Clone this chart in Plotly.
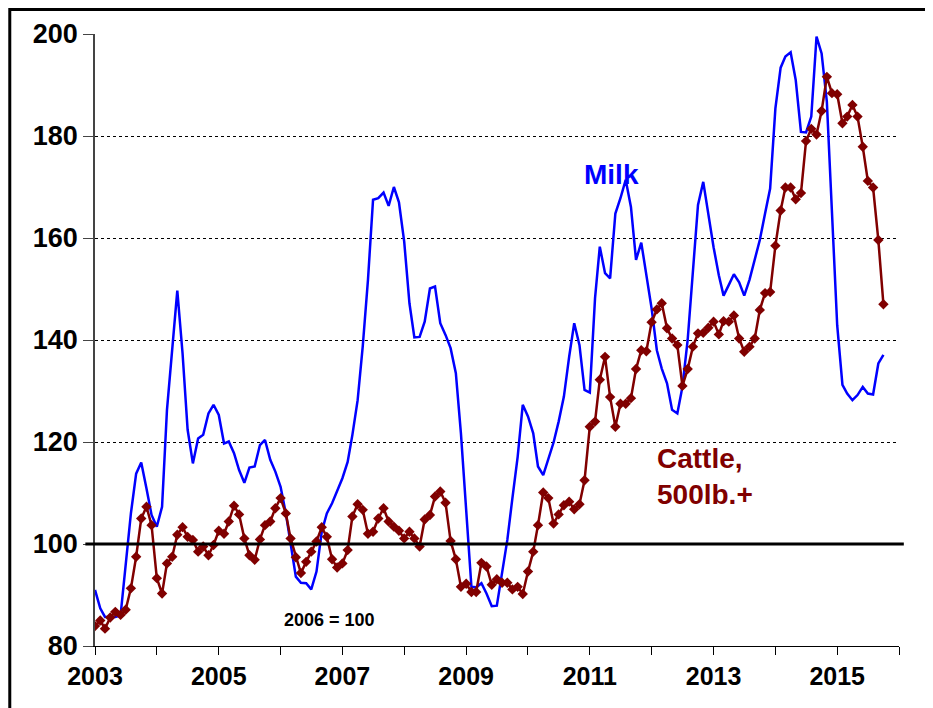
import pandas as pd
import plotly.graph_objects as go

# Monthly index values (2006 = 100), Jan 2003 - Oct 2015
milk = [91.0, 87.4, 85.7, 85.7, 85.7, 86.0, 96.2, 106.0, 113.8, 116.0, 110.9, 105.7,
        103.4, 107.3, 126.3, 138.7, 149.7, 137.4, 122.4, 115.8, 120.7, 121.4, 125.6, 127.3,
        125.3, 119.7, 120.1, 117.8, 114.5, 112.0, 115.0, 115.2, 119.4, 120.4, 116.5, 114.2,
        111.2, 106.0, 100.1, 93.6, 92.4, 92.3, 91.1, 94.6, 102.4, 106.0, 108.0, 110.3,
        112.9, 116.1, 121.4, 128.2, 138.7, 151.8, 167.5, 167.8, 168.9, 166.3, 170.0, 167.0,
        159.3, 147.2, 140.5, 140.6, 143.6, 150.1, 150.5, 143.3, 141.0, 138.4, 133.5, 121.7,
        107.3, 91.6, 91.5, 92.3, 90.3, 87.8, 87.9, 94.6, 100.8, 109.0, 117.1, 127.3,
        125.0, 121.7, 115.2, 113.5, 116.8, 119.9, 124.0, 128.9, 136.7, 143.3, 139.0, 130.2,
        129.7, 148.2, 158.3, 153.1, 152.1, 164.8, 167.8, 171.4, 166.1, 155.7, 159.1, 152.7,
        146.2, 138.0, 134.4, 131.5, 126.3, 125.6, 130.8, 140.0, 153.1, 166.5, 171.0, 164.5,
        158.2, 152.7, 148.7, 150.8, 152.9, 151.3, 148.7, 151.8, 155.7, 159.6, 164.8, 169.7,
        185.4, 193.4, 195.6, 196.4, 191.0, 180.8, 180.7, 183.8, 199.5, 196.2, 186.7, 163.9,
        142.9, 131.2, 129.5, 128.2, 129.2, 130.8, 129.5, 129.3, 135.4, 137.1]

cattle = [83.9, 85.0, 83.4, 85.6, 86.7, 86.1, 87.1, 91.3, 97.5, 105.0, 107.3, 103.7,
          93.3, 90.3, 96.2, 97.5, 101.8, 103.3, 101.4, 100.8, 98.5, 99.5, 97.8, 99.8,
          102.6, 102.0, 104.4, 107.5, 105.8, 101.1, 97.8, 96.9, 100.9, 103.7, 104.4, 107.0,
          109.0, 106.0, 101.1, 97.4, 94.3, 96.5, 98.5, 100.5, 103.3, 101.4, 97.0, 95.4,
          96.2, 98.8, 105.4, 107.8, 106.7, 102.0, 102.4, 105.0, 107.0, 104.4, 103.4, 102.6,
          101.1, 102.4, 101.1, 99.5, 104.8, 105.7, 109.3, 110.3, 108.1, 100.6, 97.0, 91.6,
          92.2, 90.6, 90.6, 96.3, 95.6, 92.0, 93.1, 92.4, 92.4, 91.1, 91.6, 90.2,
          94.6, 98.5, 103.7, 110.1, 109.0, 104.0, 105.8, 107.6, 108.3, 106.8, 107.8, 112.5,
          123.0, 124.0, 132.2, 136.7, 128.8, 123.0, 127.5, 127.5, 128.6, 134.3, 138.0, 137.8,
          143.5, 146.0, 147.2, 142.3, 140.3, 139.0, 131.0, 134.3, 138.7, 141.3, 141.4, 142.4,
          143.6, 141.1, 143.7, 143.6, 144.8, 140.3, 137.7, 138.7, 140.3, 145.9, 149.2, 149.4,
          158.5, 165.4, 169.9, 169.9, 167.6, 168.8, 179.0, 181.4, 180.3, 184.9, 191.6, 188.4,
          188.2, 182.5, 183.8, 186.1, 183.8, 177.9, 171.2, 169.9, 159.6, 147.0]

start_month = "2003-01-01"
dates = pd.date_range(start_month, periods=len(milk), freq="MS")

tick_years = list(range(2003, 2017))
year_labels = ["2003", "", "2005", "", "2007", "", "2009", "", "2011", "", "2013", "", "2015", ""]
y_ticks = [80, 100, 120, 140, 160, 180, 200]

BLUE = "#0000ff"
RED = "#800000"
FONT = "Liberation Sans, Arial, sans-serif"

fig = go.Figure()
fig.add_trace(go.Scatter(x=dates, y=milk, mode="lines", name="Milk",
                         line=dict(color=BLUE, width=2.5)))
fig.add_trace(go.Scatter(x=dates, y=cattle, mode="lines+markers", name="Cattle, 500lb.+",
                         line=dict(color=RED, width=2.5),
                         marker=dict(symbol="diamond", size=8, color=RED)))

fig.update_layout(
    width=925, height=700,
    margin=dict(l=87, r=34, t=26, b=62),
    paper_bgcolor="white", plot_bgcolor="white",
    showlegend=False,
    font=dict(family=FONT, color="black"),
)
fig.update_xaxes(
    type="date",
    range=["2003-01-01", "2016-01-01"],
    tickvals=[f"{y}-01-01" for y in tick_years],
    ticktext=year_labels,
    ticks="outside", ticklen=8, tickcolor="black", tickwidth=1,
    showline=True, linecolor="black", linewidth=1,
    showgrid=False, zeroline=False,
    tickfont=dict(family=FONT, size=25, weight="bold", color="black"),
)
fig.update_yaxes(
    range=[80, 200],
    tickvals=y_ticks,
    ticks="outside", ticklen=10, tickcolor="#444444", tickwidth=1,
    showline=True, linecolor="#444444", linewidth=1.5,
    showgrid=True, gridcolor="black", gridwidth=1, griddash="3px,3px",
    zeroline=False,
    tickfont=dict(family=FONT, size=27, weight="bold", color="black"),
)

# Base line at 2006 = 100
fig.add_shape(type="line", xref="paper", yref="y", x0=-0.012, x1=1.006, y0=100, y1=100,
              line=dict(color="black", width=3))
# Outer frame
fig.add_shape(type="rect", xref="paper", yref="paper", x0=-0.106, x1=1.08, y0=-0.14, y1=1.04,
              line=dict(color="black", width=3), fillcolor="rgba(0,0,0,0)", layer="above")

fig.add_annotation(x="2011-05-10", y=172.4, text="Milk", showarrow=False,
                   font=dict(family=FONT, size=28, weight="bold", color=BLUE))
fig.add_annotation(x="2012-01-20", y=113.3, text="Cattle,<br>500lb.+", showarrow=False,
                   align="left", xanchor="left",
                   font=dict(family=FONT, size=28, weight="bold", color=RED))
fig.add_annotation(x="2006-10-15", y=85.1, text="2006 = 100", showarrow=False,
                   font=dict(family=FONT, size=18, weight="bold", color="black"))

fig.write_html("out.html")
